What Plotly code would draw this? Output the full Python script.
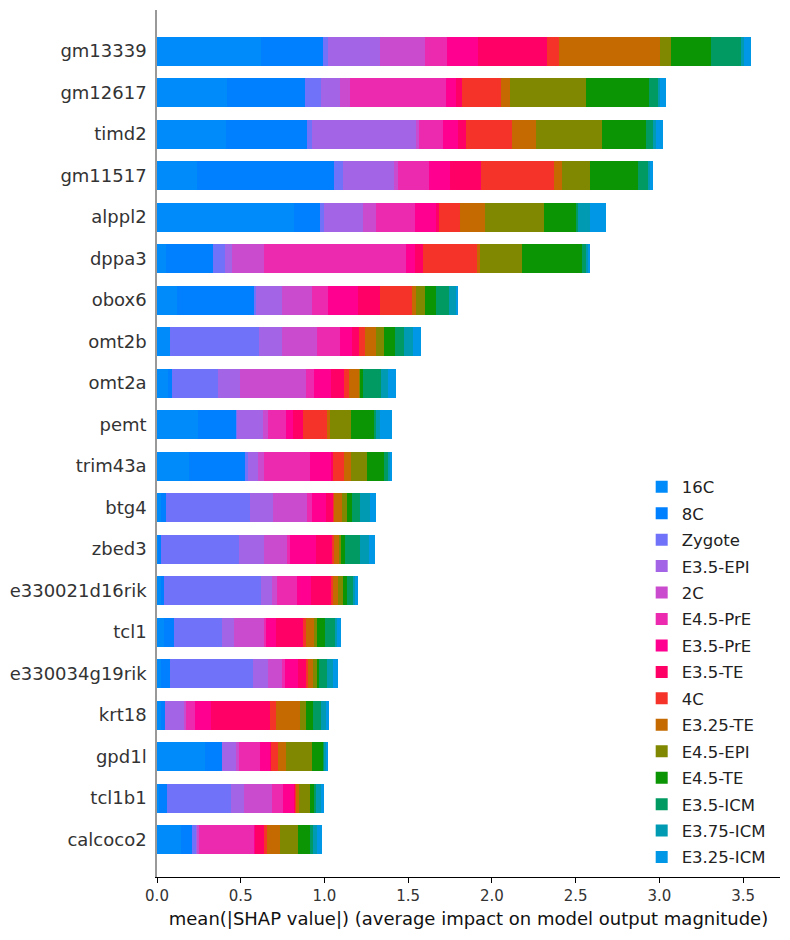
import plotly.graph_objects as go

genes = ["gm13339", "gm12617", "timd2", "gm11517", "alppl2", "dppa3", "obox6", "omt2b",
         "omt2a", "pemt", "trim43a", "btg4", "zbed3", "e330021d16rik", "tcl1",
         "e330034g19rik", "krt18", "gpd1l", "tcl1b1", "calcoco2"]

classes = ["16C", "8C", "Zygote", "E3.5-EPI", "2C", "E4.5-PrE", "E3.5-PrE", "E3.5-TE",
           "4C", "E3.25-TE", "E4.5-EPI", "E4.5-TE", "E3.5-ICM", "E3.75-ICM", "E3.25-ICM"]

colors = ["#008bfa", "#0080ff", "#7073f9", "#a464e6", "#ca4bcd", "#eb2aaf", "#ff0090",
          "#ff0066", "#f53329", "#c56a00", "#808700", "#0b9404", "#009a62", "#009bb2",
          "#0098e6"]

v_16C = [0.622, 0.417, 0.411, 0.237, 0.819, 0.054, 0.120, 0.078, 0.066, 0.245,
         0.191, 0.024, 0.004, 0.024, 0.042, 0.024, 0.024, 0.287, 0.012, 0.143]
v_8C = [0.371, 0.468, 0.486, 0.821, 0.155, 0.281, 0.460, 0.002, 0.024, 0.227,
        0.335, 0.030, 0.020, 0.018, 0.060, 0.054, 0.024, 0.102, 0.048, 0.066]
v_Zygote = [0.030, 0.096, 0.030, 0.054, 0.022, 0.072, 0.012, 0.532, 0.275, 0.006,
            0.018, 0.502, 0.466, 0.580, 0.287, 0.496, 0.002, 0.002, 0.383, 0.024]
v_E35EPI = [0.311, 0.114, 0.622, 0.303, 0.235, 0.042, 0.155, 0.137, 0.131, 0.155,
            0.060, 0.137, 0.149, 0.066, 0.072, 0.090, 0.114, 0.078, 0.078, 0.006]
v_2C = [0.269, 0.060, 0.018, 0.026, 0.078, 0.191, 0.179, 0.209, 0.394, 0.030,
        0.036, 0.203, 0.137, 0.030, 0.179, 0.084, 0.012, 0.018, 0.167, 0.012]
v_E45PrE = [0.126, 0.568, 0.143, 0.185, 0.233, 0.849, 0.096, 0.137, 0.048, 0.108,
            0.275, 0.030, 0.018, 0.120, 0.012, 0.018, 0.048, 0.126, 0.066, 0.329]
v_E35PrE = [0.189, 0.064, 0.088, 0.126, 0.126, 0.054, 0.179, 0.072, 0.102, 0.042,
            0.126, 0.084, 0.155, 0.084, 0.060, 0.078, 0.096, 0.066, 0.066, 0.006]
v_E35TE = [0.408, 0.032, 0.050, 0.185, 0.018, 0.048, 0.131, 0.042, 0.078, 0.060,
           0.012, 0.042, 0.096, 0.120, 0.161, 0.048, 0.353, 0.002, 0.006, 0.054]
v_4C = [0.072, 0.233, 0.269, 0.436, 0.126, 0.317, 0.191, 0.030, 0.030, 0.143,
        0.066, 0.006, 0.012, 0.006, 0.018, 0.012, 0.036, 0.042, 0.006, 0.018]
v_E325TE = [0.605, 0.058, 0.149, 0.046, 0.149, 0.018, 0.024, 0.066, 0.060, 0.018,
            0.042, 0.048, 0.030, 0.030, 0.048, 0.030, 0.143, 0.048, 0.018, 0.078]
v_E45EPI = [0.064, 0.450, 0.389, 0.169, 0.347, 0.251, 0.054, 0.048, 0.006, 0.126,
            0.090, 0.030, 0.012, 0.030, 0.018, 0.024, 0.036, 0.155, 0.066, 0.108]
v_E45TE = [0.239, 0.377, 0.263, 0.287, 0.191, 0.359, 0.066, 0.066, 0.018, 0.137,
           0.102, 0.030, 0.024, 0.024, 0.048, 0.012, 0.042, 0.066, 0.024, 0.072]
v_E35ICM = [0.179, 0.054, 0.042, 0.054, 0.012, 0.024, 0.078, 0.054, 0.108, 0.012,
            0.024, 0.048, 0.090, 0.042, 0.060, 0.048, 0.048, 0.008, 0.012, 0.018]
v_E375ICM = [0.020, 0.014, 0.018, 0.012, 0.072, 0.012, 0.042, 0.054, 0.042, 0.024,
             0.018, 0.060, 0.054, 0.006, 0.012, 0.030, 0.030, 0.008, 0.030, 0.024]
v_E325ICM = [0.040, 0.034, 0.042, 0.018, 0.096, 0.012, 0.012, 0.048, 0.048, 0.072,
             0.003, 0.036, 0.036, 0.018, 0.024, 0.030, 0.018, 0.014, 0.018, 0.030]

series = [v_16C, v_8C, v_Zygote, v_E35EPI, v_2C, v_E45PrE, v_E35PrE, v_E35TE, v_4C,
          v_E325TE, v_E45EPI, v_E45TE, v_E35ICM, v_E375ICM, v_E325ICM]

x_ticks = [0.0, 0.5, 1.0, 1.5, 2.0, 2.5, 3.0, 3.5]

FONT = "DejaVu Sans"
TXT = "#333333"

fig = go.Figure()
for name, vals, col in zip(classes, series, colors):
    fig.add_trace(go.Bar(
        y=genes, x=vals, name=name, orientation="h",
        marker=dict(color=col, line=dict(width=0)),
        legendgroup=name,
    ))

fig.update_layout(
    barmode="stack",
    bargap=0.3,
    width=790, height=940,
    margin=dict(l=157, r=10, t=10, b=63),
    plot_bgcolor="white", paper_bgcolor="white",
    font=dict(family=FONT, color=TXT),
    legend=dict(
        x=0.778, y=0.470, xanchor="left", yanchor="top",
        font=dict(family=FONT, size=16.5, color="#222222"),
        traceorder="grouped",
        tracegroupgap=2,
        bgcolor="rgba(0,0,0,0)",
        itemwidth=30,
    ),
    xaxis=dict(
        range=[0, 3.72],
        tickvals=x_ticks,
        tickformat=".1f",
        ticks="outside", ticklen=5, tickwidth=1, tickcolor="#000000",
        showline=True, linecolor="#000000", linewidth=1,
        showgrid=False, zeroline=False, automargin=False,
        tickfont=dict(family=FONT, size=15, color=TXT),
        title=dict(text="mean(|SHAP value|) (average impact on model output magnitude)",
                   font=dict(family=FONT, size=18, color="#111111"), standoff=8),
    ),
    yaxis=dict(
        categoryorder="array", categoryarray=genes[::-1],
        range=[-0.9, 19.99],
        showline=True, linecolor="#999999", linewidth=1.5,
        ticks="", showgrid=False, zeroline=False, automargin=False,
        tickfont=dict(family=FONT, size=18, color=TXT),
        ticklabelstandoff=5,
    ),
)

fig.write_html("out.html")
